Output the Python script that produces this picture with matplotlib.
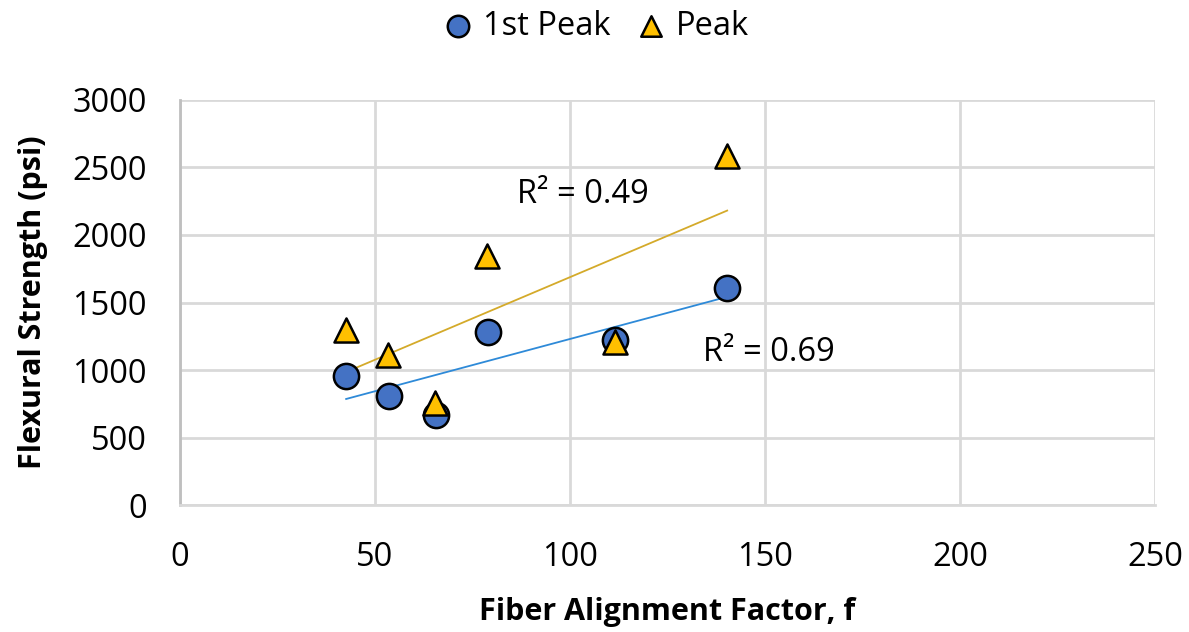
import numpy as np
import matplotlib.pyplot as plt

plt.rcParams['font.family'] = ['Open Sans', 'DejaVu Sans']

# data
f_first = [42.6, 53.6, 65.6, 79.0, 111.5, 140.3]
s_first = [958, 809, 668, 1284, 1225, 1604]
f_peak = [42.6, 53.3, 65.4, 78.7, 111.5, 140.3]
s_peak = [1299, 1113, 757, 1841, 1210, 2583]
r2_labels = ['R² = 0.69', 'R² = 0.49']

fig = plt.figure(figsize=(11.89, 6.32), dpi=100)
ax = fig.add_axes([0.1514, 0.2009, 0.82, 0.6409])

ax.set_xlim(0, 250)
ax.set_ylim(0, 3000)
ax.set_xticks(np.arange(0, 251, 50))
ax.set_yticks(np.arange(0, 3001, 500))
ax.grid(True, color='#d9d9d9', linewidth=2)
ax.set_axisbelow(True)
for s in ax.spines.values():
    s.set_visible(False)
ax.spines['left'].set_visible(True)
ax.spines['left'].set_color('#bfbfbf')
ax.spines['left'].set_linewidth(2)
ax.spines['bottom'].set_visible(True)
ax.spines['bottom'].set_color('#d9d9d9')
ax.spines['bottom'].set_linewidth(2)
ax.tick_params(length=0, labelsize=23.5, colors='#000000')
ax.tick_params(axis='y', pad=24)
ax.tick_params(axis='x', pad=26)

# linear trendlines
for fx, sy, col in [(f_first, s_first, '#2e8ad8'), (f_peak, s_peak, '#d4aa2a')]:
    k, b = np.polyfit(fx, sy, 1)
    xs = np.array([min(fx), max(fx)])
    ax.plot(xs, k * xs + b, color=col, linewidth=1.3, zorder=2)

ax.scatter(f_first, s_first, s=330, marker='o', c='#4472c4', edgecolors='black',
           linewidths=1.8, zorder=3, label='1st Peak')
ax.scatter(f_peak, s_peak, s=300, marker='^', c='#ffc000', edgecolors='black',
           linewidths=1.8, zorder=4, label='Peak')

ax.text(134, 1128, r2_labels[0], fontsize=23.5, va='center', ha='left')
ax.text(86.4, 2301, r2_labels[1], fontsize=23.5, va='center', ha='left')

ax.set_xlabel('Fiber Alignment Factor, f', fontsize=22, fontweight='bold')
ax.set_ylabel('Flexural Strength (psi)', fontsize=22, fontweight='bold')
ax.xaxis.set_label_coords(0.5, -0.228)
ax.yaxis.set_label_coords(-0.135, 0.5)

fig.legend(loc='center', bbox_to_anchor=(0.494, 0.958), ncol=2, frameon=False,
           fontsize=23.5, handletextpad=-0.25, columnspacing=0.25, markerscale=0.85)

fig.savefig('out.png', dpi=100)
